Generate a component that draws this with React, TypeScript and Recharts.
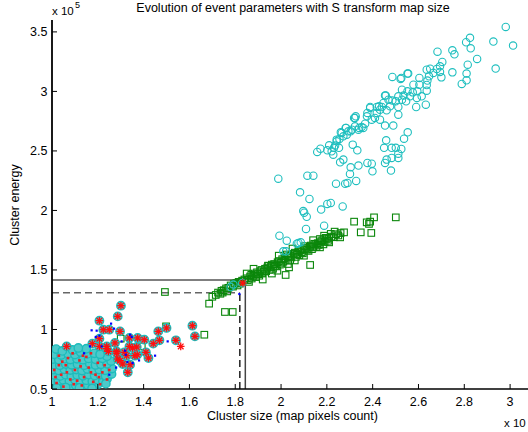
import React from 'react';
import { ScatterChart, Scatter, XAxis, YAxis, ReferenceLine } from 'recharts';

// x in units of 1e4 map pixels, y in units of 1e5
const xTicks = [1, 1.2, 1.4, 1.6, 1.8, 2, 2.2, 2.4, 2.6, 2.8, 3];
const yTicks = [0.5, 1, 1.5, 2, 2.5, 3, 3.5];

// upper branch, cyan open circles
const ringPoints: [number, number][] = [
  [2.981, 3.542], [3.013, 3.385], [2.927, 3.419], [2.937, 3.192], [2.856, 3.273], [2.825, 3.45],
  [2.808, 3.413], [2.828, 3.362], [2.815, 3.225], [2.81, 3.15], [2.81, 3.093], [2.789, 3.063],
  [2.748, 3.345], [2.757, 3.312], [2.748, 3.16], [2.683, 3.334], [2.704, 3.248], [2.694, 3.211],
  [2.68, 3.189], [2.694, 3.164], [2.7, 3.118], [2.665, 3.155], [2.651, 3.191], [2.636, 3.183],
  [2.646, 3.127], [2.639, 3.091], [2.636, 3.054], [2.636, 3.006], [2.632, 2.889], [2.614, 2.959],
  [2.604, 3.113], [2.604, 3.057], [2.595, 3.001], [2.593, 2.945], [2.59, 2.869], [2.578, 3.057],
  [2.575, 2.992], [2.563, 2.959], [2.552, 3.15], [2.552, 3.001], [2.546, 2.917], [2.535, 2.965],
  [2.525, 3.113], [2.528, 3.015], [2.528, 2.931], [2.512, 2.959], [2.512, 2.869], [2.512, 2.805],
  [2.501, 2.917], [2.486, 3.122], [2.486, 2.923], [2.476, 2.875], [2.469, 2.931], [2.461, 2.841],
  [2.454, 2.965], [2.447, 2.903], [2.44, 2.869], [2.432, 2.847], [2.432, 2.763], [2.418, 2.869],
  [2.418, 2.819], [2.41, 2.777], [2.389, 2.869], [2.396, 2.763], [2.377, 2.819], [2.375, 2.791],
  [2.367, 2.729], [2.359, 2.693], [2.352, 2.702], [2.338, 2.679], [2.323, 2.777], [2.323, 2.707],
  [2.309, 2.679], [2.294, 2.665], [2.284, 2.693], [2.287, 2.637], [2.272, 2.623], [2.265, 2.651],
  [2.255, 2.601], [2.243, 2.581], [2.236, 2.545], [2.231, 2.526], [2.221, 2.497], [2.228, 2.469],
  [2.454, 2.713], [2.49, 2.713], [2.553, 2.656], [2.537, 2.603], [2.459, 2.589], [2.45, 2.526],
  [2.483, 2.526], [2.501, 2.526], [2.525, 2.517], [2.512, 2.477], [2.512, 2.441], [2.483, 2.441],
  [2.461, 2.427], [2.454, 2.399], [2.396, 2.393], [2.377, 2.399], [2.399, 2.329], [2.48, 2.335],
  [2.338, 2.377], [2.304, 2.362], [2.301, 2.307], [2.328, 2.248], [2.29, 2.231], [2.28, 2.225],
  [2.24, 2.225], [2.272, 2.427], [2.258, 2.404], [2.333, 2.505], [2.313, 2.553], [2.158, 2.492],
  [2.172, 2.519], [2.202, 2.505], [2.21, 2.547], [2.253, 2.526], [2.243, 2.595], [2.261, 2.656],
  [2.282, 2.693], [2.304, 2.665], [2.319, 2.777], [2.326, 2.791], [2.341, 2.693], [2.389, 2.861],
  [2.428, 2.875], [2.457, 2.965], [2.522, 3.105], [2.555, 3.15], [1.988, 2.267], [2.115, 2.292],
  [2.141, 2.292], [2.083, 2.152], [2.124, 2.097], [2.097, 1.995], [2.101, 1.981], [2.112, 1.947],
  [2.175, 2.007], [2.202, 2.055], [2.217, 2.063], [2.269, 2.034], [2.188, 1.872], [2.109, 1.845],
  [1.993, 1.788], [2.025, 1.746], [2.069, 1.721], [2.086, 1.732], [2.01, 1.657], [2.022, 1.657],
  [2.076, 1.727], [1.78, 1.357], [1.831, 1.391], [1.792, 1.377],
];

// green open squares
const squarePoints: [number, number][] = [
  [1.7, 1.275], [1.715, 1.29], [1.725, 1.31], [1.735, 1.3], [1.74, 1.325], [1.75, 1.33],
  [1.76, 1.345], [1.77, 1.35], [1.78, 1.37], [1.79, 1.36], [1.795, 1.385], [1.805, 1.39],
  [1.815, 1.4], [1.82, 1.385], [1.83, 1.41], [1.84, 1.42], [1.85, 1.43], [1.855, 1.415],
  [1.865, 1.445], [1.87, 1.46], [1.88, 1.45], [1.885, 1.47], [1.895, 1.48], [1.9, 1.465],
  [1.91, 1.49], [1.915, 1.5], [1.925, 1.485], [1.93, 1.51], [1.94, 1.52], [1.945, 1.535],
  [1.955, 1.525], [1.96, 1.545], [1.97, 1.55], [1.975, 1.535], [1.985, 1.565], [1.99, 1.575],
  [2.0, 1.56], [2.005, 1.59], [2.015, 1.6], [2.02, 1.585], [2.03, 1.615], [2.04, 1.62],
  [2.045, 1.605], [2.055, 1.635], [2.06, 1.645], [2.07, 1.63], [2.075, 1.655], [2.085, 1.665],
  [2.09, 1.65], [2.1, 1.675], [2.11, 1.685], [2.115, 1.67], [2.125, 1.695], [2.13, 1.705],
  [2.14, 1.69], [2.15, 1.715], [2.16, 1.725], [2.165, 1.71], [2.175, 1.74], [2.18, 1.75],
  [2.19, 1.735], [2.2, 1.76], [2.21, 1.77], [2.22, 1.78], [2.23, 1.775], [2.24, 1.8],
  [2.25, 1.79], [2.26, 1.81], [2.275, 1.816], [2.258, 1.774], [2.234, 1.822], [2.217, 1.803],
  [2.21, 1.732], [2.188, 1.788], [1.92, 1.42], [1.96, 1.47], [2.06, 1.58], [2.1, 1.62],
  [2.17, 1.69], [1.88, 1.51], [1.99, 1.62], [2.05, 1.68], [2.14, 1.75], [1.85, 1.47],
  [2.03, 1.55], [2.127, 1.542], [2.02, 1.458], [2.035, 1.522], [1.984, 1.494], [1.943, 1.536],
  [1.872, 1.428], [1.89, 1.44], [1.905, 1.452], [1.918, 1.47], [1.935, 1.49], [1.95, 1.5],
  [1.965, 1.51], [1.98, 1.53], [1.995, 1.545], [2.01, 1.57], [2.025, 1.63], [2.04, 1.585],
  [2.065, 1.61], [2.08, 1.625], [2.095, 1.64], [2.105, 1.7], [2.12, 1.66], [2.135, 1.675],
  [2.145, 1.72], [2.155, 1.695], [2.17, 1.76], [2.185, 1.715], [2.195, 1.77], [2.205, 1.745],
  [1.86, 1.4], [1.81, 1.37], [1.765, 1.32], [1.745, 1.31],
  [2.319, 1.906], [2.348, 1.816], [2.394, 1.811], [2.384, 1.887], [2.374, 1.9], [2.389, 1.906],
  [2.406, 1.942], [2.501, 1.942], [1.493, 1.315], [1.686, 1.217], [1.755, 1.147], [1.789, 1.147],
  [1.665, 0.956], [1.498, 1.026], [1.3, 0.923], [1.392, 0.858],
];

// small events: cyan markers with red stars
const lowPoints: [number, number][] = [
  [1.301, 1.2], [1.207, 1.074], [1.224, 0.998], [1.25, 0.998], [1.287, 1.11], [1.297, 0.984],
  [1.176, 0.881], [1.207, 0.858], [1.239, 0.858], [1.246, 0.816], [1.275, 0.887], [1.282, 0.816],
  [1.338, 0.929], [1.338, 0.858], [1.374, 0.929], [1.403, 0.914], [1.37, 0.853], [1.362, 0.78],
  [1.41, 0.808], [1.421, 0.76], [1.442, 0.881], [1.469, 0.909], [1.464, 0.984], [1.5, 1.013],
  [1.541, 0.909], [1.613, 1.032], [1.624, 0.942], [1.287, 0.752], [1.309, 0.71], [1.331, 0.64],
  [1.064, 0.858], [1.316, 0.808], [1.207, 0.923], [1.239, 0.839], [1.282, 0.802], [1.297, 0.738],
  [1.341, 0.704], [1.326, 0.78], [1.372, 0.788], [1.352, 0.845],
];

// dense cluster of small events
const blobPoints: [number, number][] = [
  [1.01, 0.53], [1.032, 0.522], [1.055, 0.535], [1.08, 0.527], [1.104, 0.532], [1.13, 0.525],
  [1.156, 0.534], [1.18, 0.528], [1.2, 0.54], [1.005, 0.572], [1.028, 0.566], [1.05, 0.575],
  [1.076, 0.568], [1.1, 0.577], [1.124, 0.57], [1.15, 0.574], [1.176, 0.566], [1.2, 0.578],
  [1.222, 0.566], [1.24, 0.585], [1.012, 0.616], [1.036, 0.61], [1.06, 0.62], [1.084, 0.612],
  [1.11, 0.618], [1.135, 0.611], [1.16, 0.621], [1.186, 0.613], [1.21, 0.619], [1.234, 0.612],
  [1.26, 0.625], [1.004, 0.662], [1.03, 0.656], [1.054, 0.666], [1.08, 0.659], [1.106, 0.664],
  [1.131, 0.655], [1.155, 0.667], [1.18, 0.658], [1.206, 0.663], [1.232, 0.657], [1.262, 0.672],
  [1.01, 0.706], [1.034, 0.7], [1.06, 0.71], [1.086, 0.703], [1.111, 0.709], [1.14, 0.7],
  [1.165, 0.711], [1.19, 0.702], [1.214, 0.708], [1.24, 0.712], [1.258, 0.735], [1.005, 0.752],
  [1.03, 0.745], [1.056, 0.755], [1.08, 0.748], [1.109, 0.754], [1.135, 0.746], [1.16, 0.757],
  [1.19, 0.749], [1.22, 0.758], [1.24, 0.775], [1.01, 0.792], [1.04, 0.786], [1.07, 0.797],
  [1.1, 0.79], [1.125, 0.81], [1.155, 0.795], [1.185, 0.8], [1.21, 0.792], [1.018, 0.835],
  [1.045, 0.82], [1.09, 0.828], [1.15, 0.838], [1.115, 0.845], [1.06, 0.512], [1.12, 0.51],
  [1.02, 0.51], [1.175, 0.505], [1.235, 0.545],
];

const blobRedPoints: [number, number][] = [
  [1.02, 0.55], [1.04, 0.62], [1.06, 0.7], [1.03, 0.78], [1.08, 0.58], [1.1, 0.66], [1.12, 0.74],
  [1.09, 0.8], [1.14, 0.6], [1.16, 0.68], [1.18, 0.56], [1.2, 0.72], [1.22, 0.64], [1.24, 0.58],
  [1.13, 0.53], [1.05, 0.52], [1.01, 0.66], [1.07, 0.76], [1.15, 0.77], [1.19, 0.62], [1.23, 0.7],
  [1.11, 0.57], [1.03, 0.7], [1.17, 0.8], [1.21, 0.54], [1.045, 0.73], [1.095, 0.54], [1.125, 0.69],
  [1.17, 0.64], [1.205, 0.6], [1.25, 0.66], [1.015, 0.6], [1.065, 0.64], [1.135, 0.78],
];

const lonelyStars: [number, number][] = [[1.562, 0.858], [1.833, 1.39]];

// blue points
const bluePoints: [number, number][] = [
  [1.173, 0.993], [1.191, 0.937], [1.207, 0.948], [1.258, 1.049], [1.271, 1.007], [1.341, 0.956],
  [1.348, 0.937], [1.45, 0.78], [1.505, 0.9], [1.818, 1.298], [1.166, 0.858], [1.217, 0.858],
  [1.304, 0.9], [1.329, 0.727], [1.352, 0.718], [1.38, 0.74], [1.322, 0.788], [1.14, 0.8],
  [1.28, 0.68], [1.25, 0.62], [1.195, 0.99], [1.319, 0.822],
];

// size thresholds
const solidLimit = { x: 1.844, y: 1.416 };
const dashedLimit = { x: 1.82, y: 1.309 };

const toXY = (pts: [number, number][]) => pts.map(([x, y]) => ({ x, y }));

const FONT = '"Liberation Sans", Arial, sans-serif';

const BottomTick = (props: any) => {
  const { x, y, payload } = props;
  return (
    <g>
      <line x1={x} x2={x} y1={y} y2={y - 5} stroke="#000" />
      <text x={x} y={y + 16.5} textAnchor="middle" fontSize={12.5} fontFamily={FONT} fill="#000">
        {String(payload.value)}
      </text>
    </g>
  );
};

const LeftTick = (props: any) => {
  const { x, y, payload } = props;
  return (
    <g>
      <line x1={x} x2={x + 5} y1={y} y2={y} stroke="#000" />
      <text x={x - 4.5} y={y + 4.5} textAnchor="end" fontSize={12.5} fontFamily={FONT} fill="#000">
        {String(payload.value)}
      </text>
    </g>
  );
};

const TopTick = (props: any) => (
  <line x1={props.x} x2={props.x} y1={props.y} y2={props.y + 5} stroke="#000" />
);

const RightTick = (props: any) => (
  <line x1={props.x} x2={props.x - 5} y1={props.y} y2={props.y} stroke="#000" />
);

const Ring = (p: any) => (
  <circle cx={p.cx} cy={p.cy} r={3.7} fill="none" stroke="#1fbfbf" strokeWidth={1.1} />
);

const Square = (p: any) => (
  <rect x={p.cx - 3.3} y={p.cy - 3.3} width={6.6} height={6.6} fill="none" stroke="#0b870b" strokeWidth={1.1} />
);

const Disc = (p: any) => (
  <circle cx={p.cx} cy={p.cy} r={4.2} fill="#4ccaca" stroke="#1cbcbc" strokeWidth={1.4} />
);

const Star = (p: any) => {
  const s = 3.8;
  const d = 2.8;
  return (
    <g stroke="#ff1010" strokeWidth={1.3}>
      <circle cx={p.cx} cy={p.cy} r={1.6} fill="#ff1010" stroke="none" />
      <line x1={p.cx - s} x2={p.cx + s} y1={p.cy} y2={p.cy} />
      <line x1={p.cx} x2={p.cx} y1={p.cy - s} y2={p.cy + s} />
      <line x1={p.cx - d} x2={p.cx + d} y1={p.cy - d} y2={p.cy + d} />
      <line x1={p.cx - d} x2={p.cx + d} y1={p.cy + d} y2={p.cy - d} />
    </g>
  );
};

const SmallRed = (p: any) => (
  <rect x={p.cx - 1.3} y={p.cy - 1.3} width={2.6} height={2.6} fill="#ee2020" />
);

const Dot = (p: any) => (
  <rect x={p.cx - 1.1} y={p.cy - 1.1} width={2.2} height={2.2} fill="#0000ff" />
);

export default function App() {
  return (
    <div
      style={{
        position: 'absolute',
        left: 0,
        top: 0,
        width: 528,
        height: 432,
        overflow: 'hidden',
        background: '#fff',
      }}
    >
      <ScatterChart width={534} height={432} margin={{ top: 20, right: 1, bottom: 0, left: 0 }}>
        <XAxis
          xAxisId="b"
          type="number"
          dataKey="x"
          domain={[1, 3.1]}
          ticks={xTicks}
          interval={0}
          allowDataOverflow
          height={43}
          tickSize={0}
          tickMargin={0}
          tickLine={false}
          axisLine={{ stroke: '#000', strokeWidth: 1.5 }}
          tick={BottomTick}
        />
        <XAxis
          xAxisId="t"
          orientation="top"
          type="number"
          dataKey="x"
          domain={[1, 3.1]}
          ticks={xTicks}
          interval={0}
          allowDataOverflow
          height={0}
          tickSize={0}
          tickMargin={0}
          tickLine={false}
          axisLine={{ stroke: '#000', strokeWidth: 1.3 }}
          tick={TopTick}
        />
        <YAxis
          yAxisId="l"
          type="number"
          dataKey="y"
          domain={[0.5, 3.6]}
          ticks={yTicks}
          interval={0}
          allowDataOverflow
          width={52}
          tickSize={0}
          tickMargin={0}
          tickLine={false}
          axisLine={{ stroke: '#000', strokeWidth: 1.8 }}
          tick={LeftTick}
        />
        <YAxis
          yAxisId="r"
          orientation="right"
          type="number"
          dataKey="y"
          domain={[0.5, 3.6]}
          ticks={yTicks}
          interval={0}
          allowDataOverflow
          width={0}
          tickSize={0}
          tickMargin={0}
          tickLine={false}
          axisLine={{ stroke: '#000', strokeWidth: 1.3 }}
          tick={RightTick}
        />
        <Scatter xAxisId="b" yAxisId="l" data={toXY(squarePoints)} shape={Square} isAnimationActive={false} />
        <Scatter xAxisId="b" yAxisId="l" data={toXY(ringPoints)} shape={Ring} isAnimationActive={false} />
        <Scatter xAxisId="b" yAxisId="l" data={toXY(blobPoints)} shape={Disc} isAnimationActive={false} />
        <Scatter xAxisId="b" yAxisId="l" data={toXY(lowPoints)} shape={Disc} isAnimationActive={false} />
        <Scatter xAxisId="b" yAxisId="l" data={toXY(blobRedPoints)} shape={SmallRed} isAnimationActive={false} />
        <Scatter xAxisId="b" yAxisId="l" data={toXY(lowPoints)} shape={Star} isAnimationActive={false} />
        <Scatter xAxisId="b" yAxisId="l" data={toXY(lonelyStars)} shape={Star} isAnimationActive={false} />
        <Scatter xAxisId="b" yAxisId="l" data={toXY(bluePoints)} shape={Dot} isAnimationActive={false} />
        <ReferenceLine
          xAxisId="b"
          yAxisId="l"
          segment={[{ x: 1, y: solidLimit.y }, { x: solidLimit.x, y: solidLimit.y }]}
          stroke="#555"
          strokeWidth={1.5}
        />
        <ReferenceLine
          xAxisId="b"
          yAxisId="l"
          segment={[{ x: solidLimit.x, y: 0.5 }, { x: solidLimit.x, y: solidLimit.y }]}
          stroke="#444"
          strokeWidth={1.5}
        />
        <ReferenceLine
          xAxisId="b"
          yAxisId="l"
          segment={[{ x: 1, y: dashedLimit.y }, { x: dashedLimit.x, y: dashedLimit.y }]}
          stroke="#666"
          strokeWidth={1.5}
          strokeDasharray="7 4"
        />
        <ReferenceLine
          xAxisId="b"
          yAxisId="l"
          segment={[{ x: dashedLimit.x, y: 0.5 }, { x: dashedLimit.x, y: dashedLimit.y }]}
          stroke="#222"
          strokeWidth={1.5}
          strokeDasharray="7 4"
        />
      </ScatterChart>
      <svg
        width={528}
        height={432}
        style={{ position: 'absolute', left: 0, top: 0, pointerEvents: 'none' }}
        fontFamily={FONT}
      >
        <text x={293} y={12} textAnchor="middle" fontSize={12.5} fill="#000">
          Evolution of event parameters with S transform map size
        </text>
        <text x={52} y={15} fontSize={11.5} fill="#000">x 10</text>
        <text x={75} y={8} fontSize={9} fill="#000">5</text>
        <text x={292.5} y={420} textAnchor="middle" fontSize={12.5} fill="#000">
          Cluster size (map pixels count)
        </text>
        <text x={19} y={205} textAnchor="middle" fontSize={12.5} fill="#000" transform="rotate(-90 19 205)">
          Cluster energy
        </text>
        <text x={504} y={427} fontSize={11.5} fill="#000">x 10</text>
      </svg>
    </div>
  );
}
